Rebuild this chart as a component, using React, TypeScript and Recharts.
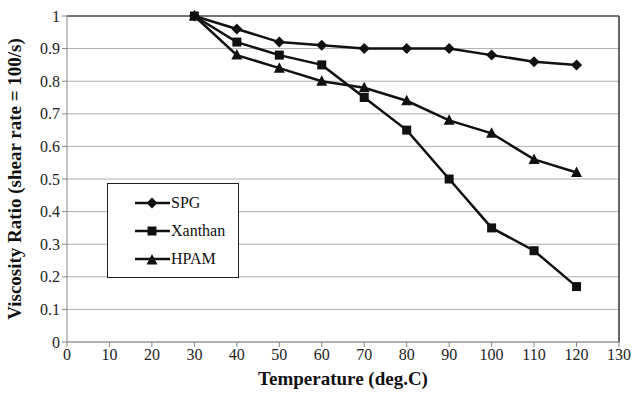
import React from 'react';
import { LineChart, Line, XAxis, YAxis, CartesianGrid, ReferenceLine } from 'recharts';

const temperatures = [30, 40, 50, 60, 70, 80, 90, 100, 110, 120];
const spg = [1, 0.96, 0.92, 0.91, 0.9, 0.9, 0.9, 0.88, 0.86, 0.85];
const xanthan = [1, 0.92, 0.88, 0.85, 0.75, 0.65, 0.5, 0.35, 0.28, 0.17];
const hpam = [1, 0.88, 0.84, 0.8, 0.78, 0.74, 0.68, 0.64, 0.56, 0.52];
const xTicks = [0, 10, 20, 30, 40, 50, 60, 70, 80, 90, 100, 110, 120, 130];
const yTicks = [0, 0.1, 0.2, 0.3, 0.4, 0.5, 0.6, 0.7, 0.8, 0.9, 1];

const data = temperatures.map((t, i) => ({ t, spg: spg[i], xanthan: xanthan[i], hpam: hpam[i] }));

const FONT = '"Liberation Serif", "DejaVu Serif", serif';
const INK = '#111';

const Diamond = (props: any) => {
  const { cx, cy } = props;
  if (cx == null || cy == null) return null;
  const r = 5.5;
  return <path d={`M${cx},${cy - r}L${cx + r},${cy}L${cx},${cy + r}L${cx - r},${cy}Z`} fill={INK} />;
};
const Square = (props: any) => {
  const { cx, cy } = props;
  if (cx == null || cy == null) return null;
  const r = 4.5;
  return <rect x={cx - r} y={cy - r} width={2 * r} height={2 * r} fill={INK} />;
};
const Triangle = (props: any) => {
  const { cx, cy } = props;
  if (cx == null || cy == null) return null;
  return <path d={`M${cx},${cy - 6}L${cx + 5.5},${cy + 4.5}L${cx - 5.5},${cy + 4.5}Z`} fill={INK} />;
};

const legendItems = [
  { name: 'SPG', shape: 'diamond' },
  { name: 'Xanthan', shape: 'square' },
  { name: 'HPAM', shape: 'triangle' },
];

const LegendBox = () => (
  <div style={{ position: 'absolute', left: 107, top: 183, border: '1px solid #222', width: 132, height: 95, boxSizing: 'border-box', background: '#fff', paddingTop: 5 }}>
    {legendItems.map((it) => (
      <div key={it.name} style={{ display: 'flex', alignItems: 'center', height: 28, paddingLeft: 27 }}>
        <svg width={36} height={14} style={{ display: 'block' }}>
          <line x1={0} y1={7} x2={35} y2={7} stroke={INK} strokeWidth={2.5} />
          {it.shape === 'diamond' && <Diamond cx={17} cy={7} />}
          {it.shape === 'square' && <Square cx={17} cy={7} />}
          {it.shape === 'triangle' && <Triangle cx={17} cy={8} />}
        </svg>
        <span style={{ fontFamily: FONT, fontSize: 16, color: '#111', lineHeight: '16px' }}>{it.name}</span>
      </div>
    ))}
  </div>
);

export default function App() {
  return (
    <div style={{ position: 'absolute', left: 0, top: 0, width: 633, height: 393, background: '#fff' }}>
      <LineChart width={633} height={393} data={data} margin={{ top: 16, right: 14, bottom: 8, left: 0 }}>
        <CartesianGrid vertical={false} stroke="#b0b0b0" strokeWidth={1} />
        <XAxis
          dataKey="t"
          type="number"
          domain={[0, 130]}
          ticks={xTicks}
          interval={0}
          height={43}
          stroke="#888"
          tickSize={5}
          tick={{ fontFamily: FONT, fontSize: 16, fill: '#222' }}
          label={{ value: 'Temperature (deg.C)', position: 'insideBottom', offset: 0, style: { fontFamily: FONT, fontSize: 19, fontWeight: 'bold', fill: '#111' } }}
        />
        <YAxis
          type="number"
          domain={[0, 1]}
          ticks={yTicks}
          interval={0}
          width={67}
          stroke="#888"
          tickSize={5}
          tickFormatter={(v: number) => String(Math.round(v * 10) / 10)}
          tick={{ fontFamily: FONT, fontSize: 16, fill: '#222' }}
          label={{ value: 'Viscosity Ratio (shear rate = 100/s)', angle: -90, position: 'insideLeft', offset: 14, style: { textAnchor: 'middle', fontFamily: FONT, fontSize: 19, fontWeight: 'bold', fill: '#111' } }}
        />
        <ReferenceLine y={1} stroke="#555" strokeWidth={1.5} />
        <ReferenceLine x={130} stroke="#333" strokeWidth={1.5} />
        <Line dataKey="spg" name="SPG" stroke={INK} strokeWidth={2.5} dot={<Diamond />} isAnimationActive={false} />
        <Line dataKey="xanthan" name="Xanthan" stroke={INK} strokeWidth={2.5} dot={<Square />} isAnimationActive={false} />
        <Line dataKey="hpam" name="HPAM" stroke={INK} strokeWidth={2.5} dot={<Triangle />} isAnimationActive={false} />
      </LineChart>
      <LegendBox />
    </div>
  );
}
